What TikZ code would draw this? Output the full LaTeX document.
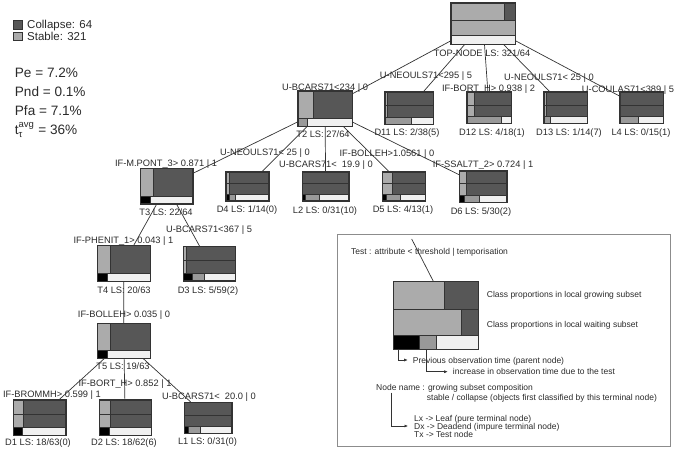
\documentclass[tikz,border=0pt]{standalone}
\usepackage{fontspec}
\usepackage{amsmath}
\setmainfont{Liberation Sans}
\usetikzlibrary{arrows.meta}

\definecolor{collapsecol}{HTML}{575757}
\definecolor{stablecol}{HTML}{ABABAB}
\definecolor{delaycol}{HTML}{999999}
\definecolor{emptycol}{HTML}{F0F0F0}
\definecolor{linecol}{HTML}{333333}
\definecolor{textcol}{HTML}{2A2A2A}
\definecolor{framecol}{HTML}{8C8C8C}

\tikzset{
  nodebox/.style={draw=linecol, fill=collapsecol, rectangle, inner sep=0pt, line width=0.8pt},
  cell/.style={draw=linecol, line width=0.6pt},
  link/.style={draw=linecol, line width=0.7pt},
  lab/.style={font=\fontsize{9.3}{11}\selectfont, text=textcol, inner sep=0pt, text height=6.7pt, text depth=0pt},
  keynote/.style={font=\fontsize{8.5}{10}\selectfont, text=textcol, inner sep=0pt, text height=6.1pt, text depth=0pt, anchor=west},
  keytxt/.style={font=\fontsize{11.5}{13}\selectfont, text=textcol, inner sep=0pt, text height=8.3pt, text depth=0pt, anchor=west},
  ratetxt/.style={font=\fontsize{13.6}{16}\selectfont, text=textcol, inner sep=0pt, text height=9.8pt, text depth=0pt, anchor=west},
  keysq/.style={draw=linecol, minimum size=8.5pt, inner sep=0pt, line width=0.6pt},
  keyarrow/.style={draw=linecol, line width=0.6pt, -{Latex[length=3.5pt,width=3pt]}},
}

% three-row box: name, x, y, w, h, stable (growing), stable (waiting), black, black+grey
\newcommand{\termbox}[9]{%
  \node[nodebox, minimum width=#4pt, minimum height=#5pt] (#1) at (#2,#3) {};
  \pgfmathsetmacro\boxL{#2-#4/2}
  \pgfmathsetmacro\boxR{#2+#4/2}
  \pgfmathsetmacro\boxT{#3-#5/2}
  \pgfmathsetmacro\boxB{#3+#5/2}
  \pgfmathsetmacro\rowA{\boxT+0.41*#5}
  \pgfmathsetmacro\rowB{\boxT+0.79*#5}
  \filldraw[cell, fill=stablecol] (\boxL,\boxT) rectangle ({\boxL+#6*#4},\rowA);
  \filldraw[cell, fill=stablecol] (\boxL,\rowA) rectangle ({\boxL+#7*#4},\rowB);
  \filldraw[cell, fill=emptycol] (\boxL,\rowB) rectangle (\boxR,\boxB);
  \filldraw[cell, fill=delaycol] ({\boxL+#8*#4},\rowB) rectangle ({\boxL+#9*#4},\boxB);
  \filldraw[cell, fill=black] (\boxL,\rowB) rectangle ({\boxL+#8*#4},\boxB);
  \draw[cell] (\boxL,\rowA) -- (\boxR,\rowA);
  \draw[nodebox, fill=none] (#1.north west) rectangle (#1.south east);
}

% two-row box: name, x, y, w, h, stable, black, black+grey
\newcommand{\testbox}[8]{%
  \node[nodebox, minimum width=#4pt, minimum height=#5pt] (#1) at (#2,#3) {};
  \pgfmathsetmacro\boxL{#2-#4/2}
  \pgfmathsetmacro\boxR{#2+#4/2}
  \pgfmathsetmacro\boxT{#3-#5/2}
  \pgfmathsetmacro\boxB{#3+#5/2}
  \pgfmathsetmacro\rowA{\boxT+0.78*#5}
  \filldraw[cell, fill=stablecol] (\boxL,\boxT) rectangle ({\boxL+#6*#4},\rowA);
  \filldraw[cell, fill=emptycol] (\boxL,\rowA) rectangle (\boxR,\boxB);
  \filldraw[cell, fill=delaycol] ({\boxL+#7*#4},\rowA) rectangle ({\boxL+#8*#4},\boxB);
  \filldraw[cell, fill=black] (\boxL,\rowA) rectangle ({\boxL+#7*#4},\boxB);
  \draw[nodebox, fill=none] (#1.north west) rectangle (#1.south east);
}

\begin{document}
\begin{tikzpicture}[x=1pt, y=-1pt]
  \useasboundingbox (0,0) rectangle (675,448);

  % class key and rates
  \node[keysq, fill=collapsecol] (sqcol) at (17.8,24.7) {};
  \node[keysq, fill=stablecol] (sqsta) at (17.8,36.5) {};
  \node[keytxt] (keycol) at (27,24.5) {Collapse: 64};
  \node[keytxt] (keysta) at (27,36.5) {Stable: 321};
  \node[ratetxt] (pe) at (14.7,72.7) {Pe = 7.2\%};
  \node[ratetxt] (pnd) at (14.7,91.7) {Pnd = 0.1\%};
  \node[ratetxt] (pfa) at (14.7,110.7) {Pfa = 7.1\%};
  \node[ratetxt] (tavg) at (14.7,130) {t$^{\text{avg}}_{\text{τ}}$ = 36\%};

  % tree nodes
  \termbox{top}{483}{23.5}{64}{41}{0.83}{1}{0}{0}
  \testbox{t2}{325}{108.5}{54}{35}{0.28}{0}{0.17}
  \termbox{d11}{409}{108.2}{48}{32.3}{0.045}{0.045}{0}{0.54}
  \termbox{d12}{489}{107.7}{44}{31.3}{0.17}{0.17}{0}{0.79}
  \termbox{d13}{565.5}{107.7}{43}{31.3}{0.06}{0.06}{0}{0.14}
  \termbox{l4}{641.5}{107.7}{43}{31.3}{0}{0}{0}{0.42}
  \testbox{t3}{166.7}{186.2}{52}{35}{0.24}{0.18}{0.18}
  \termbox{d4}{247.3}{186.3}{42.7}{28.7}{0.08}{0.08}{0.08}{0.23}
  \termbox{l2}{325.7}{186.3}{46}{28.7}{0}{0}{0.065}{0.35}
  \termbox{d5}{404}{186.3}{42.6}{28.7}{0.22}{0.22}{0.094}{0.41}
  \termbox{d6}{483}{186.5}{47.4}{31}{0.14}{0.14}{0.11}{0.42}
  \testbox{t4}{123.7}{263.3}{52.7}{35.3}{0.24}{0.18}{0.18}
  \termbox{d3}{209.2}{263.7}{51.7}{34}{0.066}{0.066}{0.18}{0.41}
  \testbox{t5}{123.8}{340.8}{52.3}{35}{0.235}{0.18}{0.18}
  \termbox{d1}{39.5}{417.5}{52.4}{35}{0.2}{0.2}{0.18}{0.18}
  \termbox{d2}{125.2}{417.5}{51.7}{35}{0.21}{0.21}{0.19}{0.19}
  \termbox{l1}{208}{417.8}{47.4}{31}{0}{0}{0.093}{0.33}

  \begin{scope}[link]
    \draw (top) to (t2);
    \draw (top) to (d11);
    \draw (top) to (d12);
    \draw (top) to (d13);
    \draw (top) to (l4);
    \draw (t2) to (t3);
    \draw (t2) to (d4);
    \draw (t2) to (l2);
    \draw (t2) to (d5);
    \draw (t2) to (d6);
    \draw (t3) to (t4);
    \draw (t3) to (d3);
    \draw (t4) to (t5);
    \draw (t5) to (d1);
    \draw (t5) to (d2);
    \draw (t5) to (l1);
  \end{scope}

  % node names
  \node[lab] (toplab) at (482,53) {TOP-NODE LS: 321/64};
  \node[lab] (t2lab) at (323,134) {T2 LS: 27/64};
  \node[lab] (d11lab) at (407,132.5) {D11 LS: 2/38(5)};
  \node[lab] (d12lab) at (492,132) {D12 LS: 4/18(1)};
  \node[lab] (d13lab) at (569,132) {D13 LS: 1/14(7)};
  \node[lab] (l4lab) at (641,132) {L4 LS: 0/15(1)};
  \node[lab] (t3lab) at (166,212) {T3 LS: 22/64};
  \node[lab] (d4lab) at (247,209) {D4 LS: 1/14(0)};
  \node[lab] (l2lab) at (325,210) {L2 LS: 0/31(10)};
  \node[lab] (d5lab) at (403,209) {D5 LS: 4/13(1)};
  \node[lab] (d6lab) at (481,211) {D6 LS: 5/30(2)};
  \node[lab] (t4lab) at (124,290.5) {T4 LS: 20/63};
  \node[lab] (d3lab) at (208,290) {D3 LS: 5/59(2)};
  \node[lab] (t5lab) at (123,366) {T5 LS: 19/63};
  \node[lab] (d1lab) at (38,442) {D1 LS: 18/63(0)};
  \node[lab] (d2lab) at (124,442) {D2 LS: 18/62(6)};
  \node[lab] (l1lab) at (207.5,441) {L1 LS: 0/31(0)};

  % tests
  \node[lab] (test2) at (325,87) {U-BCARS71<234 | 0};
  \node[lab] (test11) at (426,75) {U-NEOULS71<295 | 5};
  \node[lab] (test12) at (488.5,88.5) {IF-BORT\_H> 0.938 | 2};
  \node[lab] (test13) at (549,77) {U-NEOULS71< 25 | 0};
  \node[lab] (test4l) at (628,89.3) {U-COULAS71<389 | 5};
  \node[lab] (test4d) at (265,152) {U-NEOULS71< 25 | 0};
  \node[lab] (test3) at (166,163) {IF-M.PONT\_3> 0.871 | 1};
  \node[lab] (test2l) at (326,164.3) {U-BCARS71<~ 19.9 | 0};
  \node[lab] (test5) at (387,153) {IF-BOLLEH>1.0561 | 0};
  \node[lab] (test6) at (483,164.3) {IF-SSAL7T\_2> 0.724 | 1};
  \node[lab] (test3d) at (209,229.3) {U-BCARS71<367 | 5};
  \node[lab] (test4) at (123.5,240.5) {IF-PHENIT\_1> 0.043 | 1};
  \node[lab] (test5t) at (124,314) {IF-BOLLEH> 0.035 | 0};
  \node[lab] (test2d) at (125,383.3) {IF-BORT\_H> 0.852 | 1};
  \node[lab] (test1d) at (52,394) {IF-BROMMH> 0.599 | 1};
  \node[lab] (test1l) at (209,395.7) {U-BCARS71<~ 20.0 | 0};

  % key to the boxes
  \draw[framecol, line width=0.8pt] (337.3,234.3) rectangle (670.5,446.5);
  \node[keynote] (testtxt0) at (351,251.7) {Test : attribute < threshold | temporisation};
  \termbox{key}{435.8}{315.3}{85}{67.3}{0.6}{0.8}{0.3}{0.5}
  \coordinate (keyin) at (411.7,239);
  \draw[link] (keyin) -- ([xshift=-2.5pt]key.north);
  \node[keynote] (growtxt) at (486.7,294.3) {Class proportions in local growing subset};
  \node[keynote] (waittxt) at (486.7,324) {Class proportions in local waiting subset};
  \node[keynote] (prevtxt) at (412.7,360) {Previous observation time (parent node)};
  \node[keynote] (incrtxt) at (452.7,371.7) {increase in observation time due to the test};
  \node[keynote] (nametxt) at (376,387.3) {Node name : growing subset composition};
  \node[keynote] (statxt) at (426.7,397.3) {stable / collapse (objects first classified by this terminal node)};
  \node[keynote] (leaftxt) at (414,418.3) {Lx -> Leaf (pure terminal node)};
  \node[keynote] (deadtxt) at (414,426) {Dx -> Deadend (impure terminal node)};
  \node[keynote] (testtxt) at (414,434) {Tx -> Test node};
  \draw[keyarrow] ([xshift=5.7pt]key.south west) |- ([xshift=-5pt]prevtxt.west);
  \draw[keyarrow] ([xshift=33.4pt]key.south west) |- ([xshift=-5pt]incrtxt.west);
  \draw[keyarrow] ([xshift=15pt,yshift=-2pt]nametxt.south west) |- ([xshift=-6pt]deadtxt.west);
\end{tikzpicture}
\end{document}
